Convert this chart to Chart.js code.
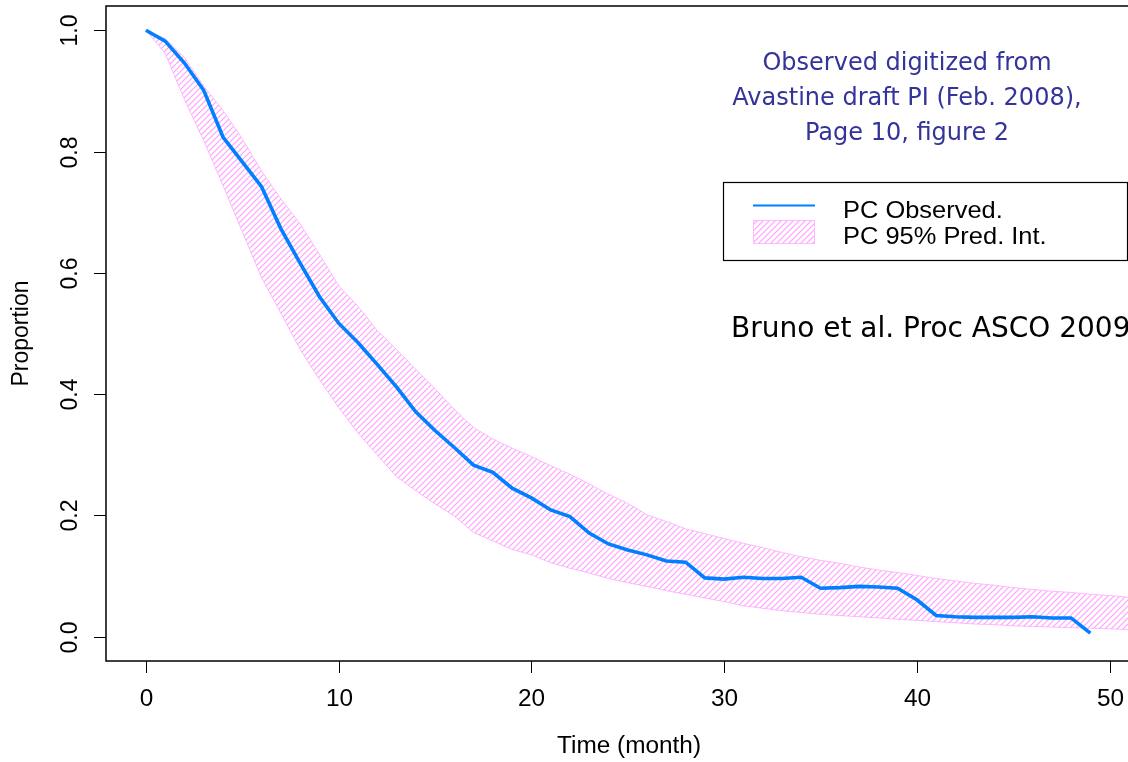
<!DOCTYPE html>
<html>
<head>
<meta charset="utf-8">
<script src="https://cdn.jsdelivr.net/npm/chart.js@4.4.1/dist/chart.umd.min.js"></script>
<style>
  html, body { margin: 0; padding: 0; background: #fff; overflow: hidden; width: 1128px; height: 762px; }
  #wrap { position: relative; width: 1160px; height: 762px; }
</style>
</head>
<body>
<div id="wrap"><canvas id="km" width="1160" height="762"></canvas></div>
<script>
// Observed Kaplan-Meier style curve, one value per month
const months = [0,1,2,3,4,5,6,7,8,9,10,11,12,13,14,15,16,17,18,19,20,21,22,23,24,25,26,27,28,29,30,31,32,33,34,35,36,37,38,39,40,41,42,43,44,45,46,47,48,49];
const observed = [1.000,0.982,0.946,0.901,0.824,0.783,0.742,0.673,0.616,0.561,
                  0.517,0.485,0.449,0.412,0.371,0.340,0.312,0.283,0.271,0.245,
                  0.229,0.209,0.198,0.171,0.153,0.143,0.135,0.125,0.123,0.097,
                  0.095,0.098,0.096,0.096,0.098,0.080,0.081,0.083,0.082,0.080,
                  0.061,0.035,0.033,0.032,0.032,0.032,0.033,0.031,0.031,0.006];

// 95% prediction interval of the model
const bandMonths = [0,1,2,3,4,5,6,7,8,9,10,11,12,13,14,15,16,17,18,19,20,21,22,23,24,25,26,27,28,29,30,31,32,33,34,35,36,37,38,39,40,41,42,43,44,45,46,47,48,49,50,51,52];
const predUpper = [1.000,0.986,0.955,0.908,0.868,0.821,0.768,0.722,0.681,0.631,
                   0.579,0.545,0.505,0.474,0.441,0.409,0.375,0.345,0.326,0.311,
                   0.297,0.282,0.268,0.252,0.235,0.220,0.201,0.190,0.178,0.170,
                   0.162,0.154,0.147,0.139,0.132,0.126,0.121,0.115,0.110,0.106,
                   0.101,0.096,0.092,0.088,0.085,0.081,0.078,0.075,0.073,0.070,
                   0.068,0.065,0.063];
const predLower = [1.000,0.962,0.886,0.818,0.744,0.668,0.592,0.534,0.474,0.424,
                   0.378,0.336,0.300,0.264,0.241,0.219,0.199,0.172,0.158,0.144,
                   0.135,0.122,0.113,0.105,0.096,0.089,0.083,0.076,0.070,0.064,
                   0.058,0.051,0.047,0.043,0.040,0.037,0.035,0.033,0.031,0.029,
                   0.027,0.025,0.023,0.021,0.020,0.018,0.017,0.016,0.015,0.014,
                   0.013,0.012,0.011];

const xTicks = [0, 10, 20, 30, 40, 50];
const yTicks = [0, 0.2, 0.4, 0.6, 0.8, 1.0];
const yTickLabels = ['0.0', '0.2', '0.4', '0.6', '0.8', '1.0'];
const xTitle = 'Time (month)';
const yTitle = 'Proportion';
const legendLabels = ['PC Observed.', 'PC 95% Pred. Int.'];
const noteLines = ['Observed digitized from', 'Avastine draft PI (Feb. 2008),', 'Page 10, figure 2'];
const citation = 'Bruno et al. Proc ASCO 2009';

const LINE_BLUE = 'rgb(0,128,255)';
const HATCH_PINK = 'rgb(255,160,255)';
const EDGE_PINK = 'rgb(255,185,255)';

// Diagonal "/" hatching used for the interval
function makeHatch() {
  const s = 6;
  const c = document.createElement('canvas');
  c.width = s; c.height = s;
  const g = c.getContext('2d');
  g.strokeStyle = HATCH_PINK;
  g.lineWidth = 1.2;
  g.beginPath();
  g.moveTo(-1, s + 1); g.lineTo(s + 1, -1);
  g.moveTo(-1, 1); g.lineTo(1, -1);
  g.moveTo(s - 1, s + 1); g.lineTo(s + 1, s - 1);
  g.stroke();
  return g.createPattern(c, 'repeat');
}
const hatch = makeHatch();

const zip = (xs, ys) => ys.map((v, i) => ({ x: xs[i], y: v }));

const SANS = '"Liberation Sans", Arial, Helvetica, sans-serif';
const NOTE = '"DejaVu Sans", Verdana, sans-serif';
const STRETCH = 1.06; // horizontal text widening of the axis/legend lettering

function wideText(ctx, text, x, y) {
  ctx.save();
  ctx.translate(x, y);
  ctx.scale(STRETCH, 1);
  ctx.fillText(text, 0, 0);
  ctx.restore();
}

const decorations = {
  id: 'decorations',
  afterDraw(chart) {
    const { ctx, chartArea: a, scales: { x, y } } = chart;
    ctx.save();

    // plot frame
    ctx.strokeStyle = '#000';
    ctx.lineWidth = 1.5;
    ctx.strokeRect(a.left, a.top, a.right - a.left, a.bottom - a.top);

    // x axis ticks and labels
    ctx.lineWidth = 1;
    ctx.fillStyle = '#000';
    ctx.font = '23px ' + SANS;
    ctx.textAlign = 'center';
    ctx.textBaseline = 'middle';
    xTicks.forEach(v => {
      const px = Math.round(x.getPixelForValue(v)) + 0.5;
      ctx.beginPath(); ctx.moveTo(px, a.bottom); ctx.lineTo(px, a.bottom + 12); ctx.stroke();
      wideText(ctx, String(v), px, a.bottom + 39);
    });

    // y axis ticks and rotated labels
    yTicks.forEach((v, i) => {
      const py = Math.round(y.getPixelForValue(v)) + 0.5;
      ctx.beginPath(); ctx.moveTo(a.left, py); ctx.lineTo(a.left - 12, py); ctx.stroke();
      ctx.save();
      ctx.translate(a.left - 35, py);
      ctx.rotate(-Math.PI / 2);
      ctx.fillText(yTickLabels[i], 0, 0);
      ctx.restore();
    });

    // axis titles
    wideText(ctx, xTitle, (a.left + a.right) / 2, a.bottom + 86);
    ctx.save();
    ctx.translate(22, (a.top + a.bottom) / 2);
    ctx.rotate(-Math.PI / 2);
    ctx.fillText(yTitle, 0, 0);
    ctx.restore();

    // legend
    const lx = 723.5, ly = 182.5, lw = 404, lh = 78;
    ctx.fillStyle = '#fff';
    ctx.fillRect(lx, ly, lw, lh);
    ctx.strokeStyle = '#000';
    ctx.lineWidth = 1.2;
    ctx.strokeRect(lx, ly, lw, lh);
    ctx.strokeStyle = LINE_BLUE;
    ctx.lineWidth = 2;
    ctx.beginPath(); ctx.moveTo(753, 205.5); ctx.lineTo(815, 205.5); ctx.stroke();
    ctx.fillStyle = hatch;
    ctx.fillRect(753.5, 220.5, 61, 23);
    ctx.strokeStyle = EDGE_PINK;
    ctx.lineWidth = 1;
    ctx.strokeRect(753.5, 220.5, 61, 23);
    ctx.fillStyle = '#000';
    ctx.font = '24px ' + SANS;
    ctx.textAlign = 'left';
    ctx.textBaseline = 'alphabetic';
    wideText(ctx, legendLabels[0], 843, 218);
    wideText(ctx, legendLabels[1], 843, 244);

    // source note
    ctx.fillStyle = 'rgb(51,51,153)';
    ctx.font = '24px ' + NOTE;
    ctx.textAlign = 'center';
    ctx.textBaseline = 'middle';
    noteLines.forEach((t, i) => ctx.fillText(t, 907, 64 + i * 35));

    // citation
    ctx.fillStyle = '#000';
    ctx.font = '28px ' + NOTE;
    ctx.textAlign = 'left';
    ctx.fillText(citation, 731, 330);

    ctx.restore();
  }
};

new Chart(document.getElementById('km'), {
  type: 'line',
  data: {
    datasets: [
      {
        label: legendLabels[0],
        data: zip(months, observed),
        borderColor: LINE_BLUE,
        borderWidth: 3.6,
        pointRadius: 0,
        tension: 0,
        fill: false
      },
      {
        label: 'upper',
        data: zip(bandMonths, predUpper),
        borderColor: EDGE_PINK,
        borderWidth: 1,
        backgroundColor: hatch,
        pointRadius: 0,
        tension: 0,
        fill: '+1'
      },
      {
        label: 'lower',
        data: zip(bandMonths, predLower),
        borderColor: EDGE_PINK,
        borderWidth: 1,
        pointRadius: 0,
        tension: 0,
        fill: false
      }
    ]
  },
  options: {
    responsive: false,
    animation: false,
    devicePixelRatio: 1,
    layout: { padding: { left: 106, top: 6, right: 8, bottom: 101 } },
    scales: {
      x: { type: 'linear', min: -2.07, max: 52.2, display: false },
      y: { type: 'linear', min: -0.04, max: 1.04, display: false }
    },
    plugins: {
      legend: { display: false },
      tooltip: { enabled: false }
    }
  },
  plugins: [decorations]
});
</script>
</body>
</html>
